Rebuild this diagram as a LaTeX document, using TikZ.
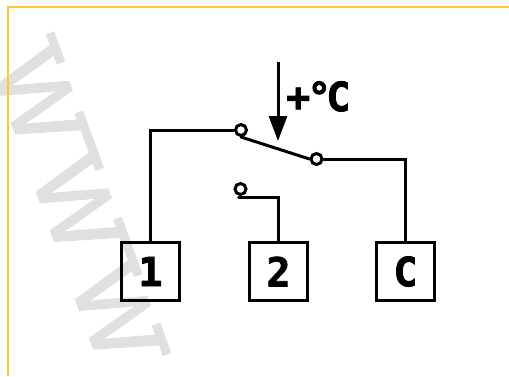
\documentclass[tikz,border=0pt]{standalone}
\usepackage{fontspec}
\setmainfont{DejaVu Sans Mono}[BoldFont={DejaVu Sans Mono Bold},BoldFeatures={FakeBold=2}]
\newfontfamily\wmfont{Liberation Sans}[FakeBold=2]
\usetikzlibrary{arrows.meta}
\definecolor{framey}{HTML}{FFC926}
\tikzset{
  wire/.style={line width=3pt,line join=miter,line cap=round},
  term/.style={draw=black,line width=3pt,minimum size=58.5pt,inner sep=0pt,font=\fontsize{40}{40}\selectfont\bfseries},
  contact/.style={circle,draw=black,line width=3pt,fill=white,minimum size=11pt,inner sep=0pt},
  wmark/.style={text=black!12,font=\wmfont\fontsize{98}{98}\selectfont,inner sep=0pt,rotate=-70},
  wbar/.style={draw=black!12,line width=9pt}
}
\begin{document}
\begin{tikzpicture}[x=1pt,y=-1pt]
\useasboundingbox (0,0) rectangle (509,376);
\fill[white] (0,0) rectangle (509,376);
\node[wmark] (wm) at (77.5,205) {W\kern22pt W\kern22pt W};
\begin{scope}[shift={(wm.center)},rotate=-70]
  \foreach \cx in {-113,0,113}{
    \foreach \dx in {-42,42}{
      \draw[wbar] (\cx+\dx-16,-33) -- (\cx+\dx+16,-33);
    }
  }
\end{scope}
\node[term] (t1) at (150.5,271.5) {1};
\node[term] (t2) at (278.5,271.5) {2};
\node[term] (tc) at (405.5,271.5) {C};
\node[contact] (c1) at (241,130) {};
\node[contact] (c2) at (240.5,189) {};
\node[contact] (c3) at (316.5,159) {};
\draw[wire] (t1.north) |- (c1.west);
\draw[wire] (c1.south) -- (c3.west);
\draw[wire] (c3.east) -| (tc.north);
\draw[wire] (c2.south) ++(-2,1.5) -| (t2.north);
\coordinate (atop) at (278,62);
\coordinate (atip) at (278,141);
\draw[line width=3pt,-{Triangle[length=25pt,width=18pt]}] (atop) -- (atip);
\node[font=\fontsize{40}{40}\selectfont\bfseries,inner sep=0pt,anchor=base west] (lab) at (286,111) {+\kern-3pt °\kern-5pt C};
\draw[framey,line width=1.8pt] (8.3,376) -- (8.3,7) -- (509,7);
\end{tikzpicture}
\end{document}
